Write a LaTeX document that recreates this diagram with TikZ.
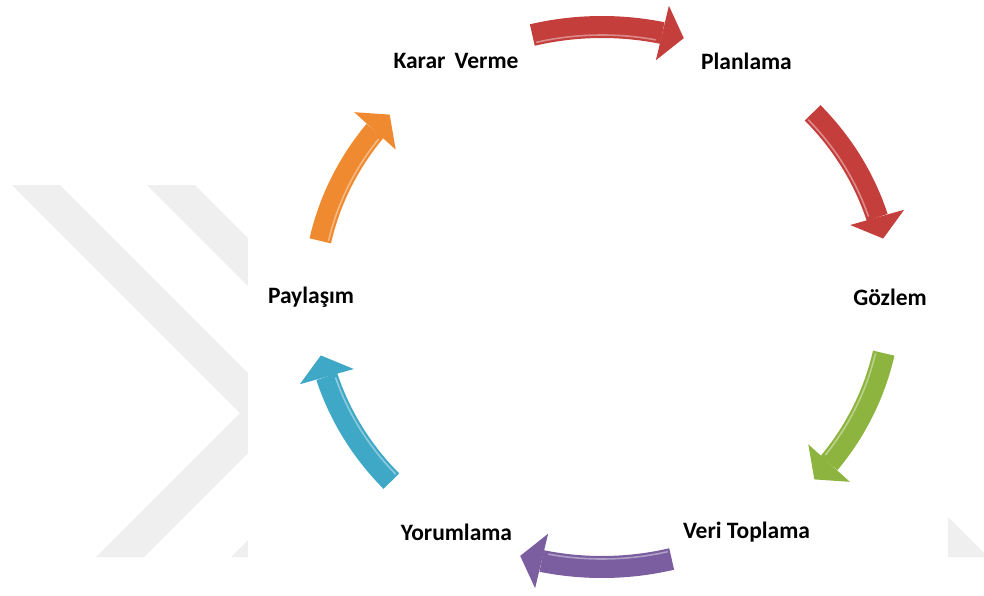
\documentclass[tikz,border=0pt]{standalone}
\usepackage{fontspec}
\setmainfont{Carlito}
\usetikzlibrary{arrows.meta,bending}

\definecolor{arrred}{RGB}{196,62,60}
\definecolor{arrgreen}{RGB}{142,180,64}
\definecolor{arrpurple}{RGB}{122,94,160}
\definecolor{arrblue}{RGB}{62,168,198}
\definecolor{arrorange}{RGB}{240,138,48}
\definecolor{markgray}{RGB}{239,239,239}

\begin{document}
\begin{tikzpicture}[x=1pt,y=1pt,
    step label/.style={font=\fontsize{23.5}{28}\selectfont\bfseries,inner sep=0pt},
    cyc arrow/.style={line width=22pt,-{Triangle[width=56pt,length=22pt,line width=0pt]}},
    shine/.style={line width=1.6pt,line cap=round}]

  \useasboundingbox (-602,-298) rectangle (382,297);

  % faint watermark behind the cycle
  \begin{scope}[shift={(-602,297)},yscale=-1]
    \fill[markgray] (12,185) -- (60,185) -- (248,373) -- (248,453) -- (144,557)
      -- (96,557) -- (240,413) -- cycle;
    \fill[markgray] (147,185) -- (195,185) -- (248,238) -- (248,286) -- cycle;
    \fill[markgray] (248,540) -- (248,557) -- (231,557) -- cycle;
    \fill[markgray] (948,517) -- (984,553) -- (984,557) -- (948,557) -- cycle;
  \end{scope}

  % steps
  \node[step label] (karar)  at (120:292 and 272)  {Karar\, Verme};
  \node[step label] (plan)   at (60:289 and 272)   {Planlama};
  \node[step label] (gozlem) at (0:288 and 272)    {Gözlem};
  \node[step label] (veri)   at (-60:289 and 272)  {Veri Toplama};
  \node[step label] (yorum)  at (-120:291 and 272) {Yorumlama};
  \node[step label] (pay)    at (180:291 and 272)  {Paylaşım};

  % arrows between the steps
  \foreach \c/\col [count=\i] in {89/arrred, 28/arrred, -27/arrgreen,
                                  -91/arrpurple, -152/arrblue, -207/arrorange}{
    \coordinate (t\i) at ({\c+15}:288 and 270);
    \draw[cyc arrow,\col] (t\i) arc[start angle=\c+15, end angle=\c-15.5,
                                    x radius=288, y radius=270];
    \draw[shine,\col!60!white] ({\c+14.5}:280 and 262) arc[start angle=\c+14.5,
      end angle=\c-10, x radius=280, y radius=262];
  }

\end{tikzpicture}
\end{document}
